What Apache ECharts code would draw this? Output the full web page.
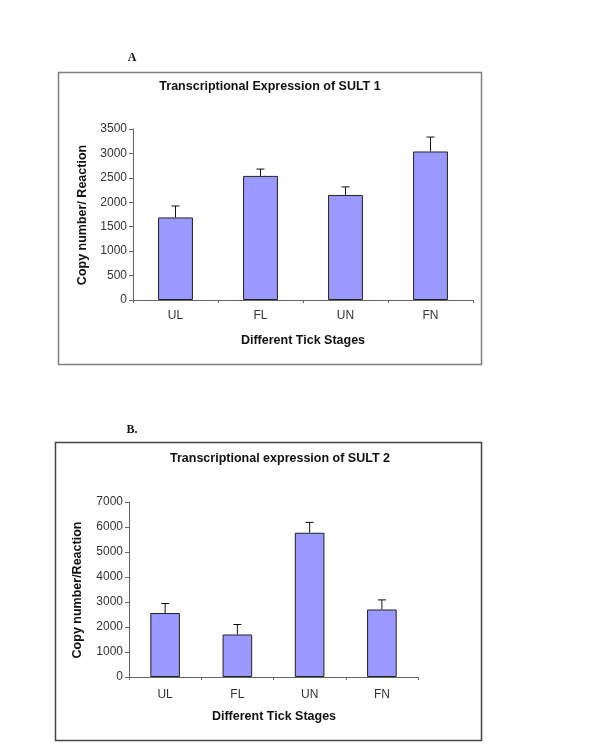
<!DOCTYPE html>
<html>
<head>
<meta charset="utf-8">
<script src="https://cdn.jsdelivr.net/npm/echarts@6/dist/echarts.min.js"></script>
<style>
html,body{margin:0;padding:0;background:#fff;}
#chart{width:600px;height:747px;}
</style>
</head>
<body>
<div id="chart"></div>
<script>
// Data
var stages = ['UL', 'FL', 'UN', 'FN'];
var sult1Means = [1690, 2540, 2150, 3040];
var sult1Errors = [235, 140, 165, 295];
var sult2Means = [2560, 1700, 5770, 2700];
var sult2Errors = [380, 400, 415, 385];
var sult1Ticks = [0, 3500, 500];   // min, max, interval
var sult2Ticks = [0, 7000, 1000];

var chart = echarts.init(document.getElementById('chart'), null, {renderer: 'canvas'});

var labelFont = {color: '#333', fontSize: 12, fontFamily: 'Liberation Sans, Arial, sans-serif'};
var boldFont = 'bold 12.5px "Liberation Sans", Arial, sans-serif';

function errItem(params, api) {
  var x = api.value(0), mean = api.value(1), err = api.value(2);
  var top = api.coord([x, mean + err]);
  var base = api.coord([x, mean]);
  var cap = 4;
  return {
    type: 'group',
    children: [
      {type: 'line', shape: {x1: top[0], y1: base[1], x2: top[0], y2: top[1]}, style: {stroke: '#111', lineWidth: 1}},
      {type: 'line', shape: {x1: top[0] - cap, y1: top[1], x2: top[0] + cap, y2: top[1]}, style: {stroke: '#111', lineWidth: 1}}
    ]
  };
}

function mkX(gi) {
  return {
    type: 'category', gridIndex: gi, data: stages,
    axisLine: {lineStyle: {color: '#666', width: 1}},
    axisTick: {show: true, length: 3, inside: false, lineStyle: {color: '#666'}},
    axisLabel: Object.assign({margin: gi === 0 ? 10 : 12}, labelFont)
  };
}
function mkY(gi, t) {
  return {
    type: 'value', gridIndex: gi, min: t[0], max: t[1], interval: t[2],
    axisLine: {show: true, lineStyle: {color: '#666', width: 1}},
    axisTick: {show: true, length: 4, lineStyle: {color: '#666'}},
    splitLine: {show: false},
    axisLabel: Object.assign({margin: 6, formatter: function (v) { return String(v); }}, labelFont)
  };
}

var option = {
  animation: false,
  backgroundColor: '#fff',
  grid: [
    {left: 133, right: 127, top: 129, bottom: 447},
    {left: 129, right: 182, top: 502, bottom: 70}
  ],
  xAxis: [mkX(0), mkX(1)],
  yAxis: [mkY(0, sult1Ticks), mkY(1, sult2Ticks)],
  series: [
    {type: 'bar', xAxisIndex: 0, yAxisIndex: 0, data: sult1Means, barWidth: '41%',
     itemStyle: {color: '#9999FF', borderColor: '#222', borderWidth: 1}},
    {type: 'custom', xAxisIndex: 0, yAxisIndex: 0, renderItem: errItem, z: 5,
     data: stages.map(function (s, i) { return [i, sult1Means[i], sult1Errors[i]]; })},
    {type: 'bar', xAxisIndex: 1, yAxisIndex: 1, data: sult2Means, barWidth: '41%',
     itemStyle: {color: '#9999FF', borderColor: '#222', borderWidth: 1}},
    {type: 'custom', xAxisIndex: 1, yAxisIndex: 1, renderItem: errItem, z: 5,
     data: stages.map(function (s, i) { return [i, sult2Means[i], sult2Errors[i]]; })}
  ],
  graphic: [
    {type: 'rect', shape: {x: 58.5, y: 72.5, width: 423, height: 292}, style: {fill: 'none', stroke: '#808080', lineWidth: 1.5}, z: -1},
    {type: 'rect', shape: {x: 55.5, y: 442.5, width: 426, height: 298}, style: {fill: 'none', stroke: '#444', lineWidth: 1.5}, z: -1},
    {type: 'text', x: 132, y: 58, style: {text: 'A', font: 'bold 12px "Liberation Serif", "Times New Roman", serif', fill: '#111', textAlign: 'center', textVerticalAlign: 'middle'}},
    {type: 'text', x: 132, y: 430, style: {text: 'B.', font: 'bold 12px "Liberation Serif", "Times New Roman", serif', fill: '#111', textAlign: 'center', textVerticalAlign: 'middle'}},
    {type: 'text', x: 270, y: 87, style: {text: 'Transcriptional Expression of SULT 1', font: boldFont, fill: '#111', textAlign: 'center', textVerticalAlign: 'middle'}},
    {type: 'text', x: 280, y: 459, style: {text: 'Transcriptional expression of SULT 2', font: boldFont, fill: '#111', textAlign: 'center', textVerticalAlign: 'middle'}},
    {type: 'text', x: 303, y: 341, style: {text: 'Different Tick Stages', font: boldFont, fill: '#111', textAlign: 'center', textVerticalAlign: 'middle'}},
    {type: 'text', x: 274, y: 717, style: {text: 'Different Tick Stages', font: boldFont, fill: '#111', textAlign: 'center', textVerticalAlign: 'middle'}},
    {type: 'text', x: 83, y: 215, rotation: Math.PI / 2, style: {text: 'Copy number/ Reaction', font: boldFont, fill: '#111', textAlign: 'center', textVerticalAlign: 'middle'}},
    {type: 'text', x: 78, y: 590, rotation: Math.PI / 2, style: {text: 'Copy number/Reaction', font: boldFont, fill: '#111', textAlign: 'center', textVerticalAlign: 'middle'}}
  ]
};
chart.setOption(option);
</script>
</body>
</html>
